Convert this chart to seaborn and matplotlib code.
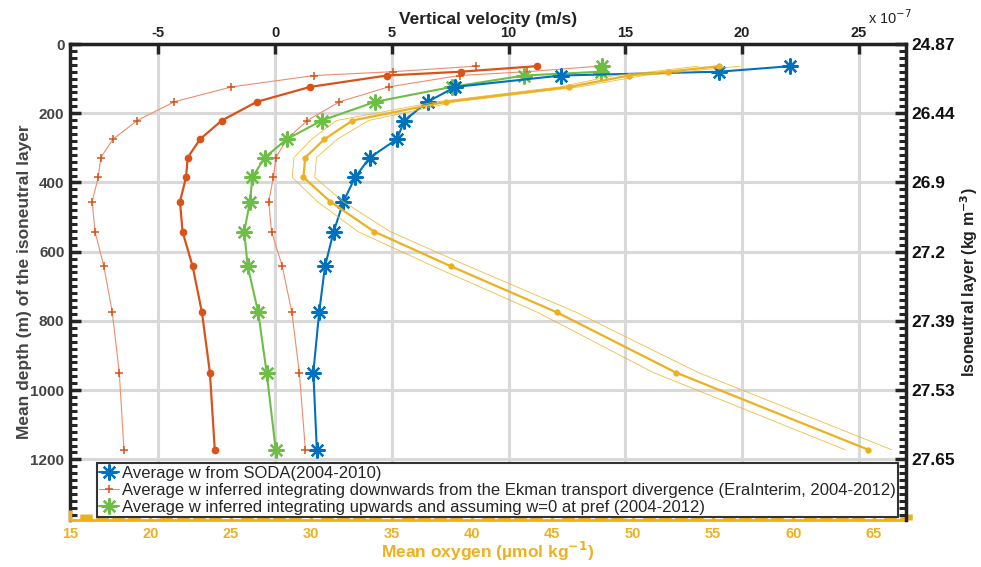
import numpy as np
import pandas as pd
import matplotlib
matplotlib.use("Agg")
import matplotlib.pyplot as plt
import seaborn as sns
from matplotlib.ticker import MultipleLocator

# ---------------- data ----------------
depth = [64, 80, 91, 124, 167, 221, 275, 328, 385, 455, 542, 642, 775, 949, 1172]
# vertical velocity (x 1e-7 m/s)
w_soda = [22.07, 19.03, 12.25, 7.72, 6.53, 5.54, 5.22, 4.06, 3.43, 2.93, 2.51, 2.14, 1.89, 1.64, 1.79]
w_ekman = [11.22, 7.96, 4.79, 1.50, -0.78, -2.28, -3.21, -3.74, -3.81, -4.07, -3.96, -3.53, -3.13, -2.79, -2.58]
w_ekman_lo = [8.59, 5.06, 1.68, -1.87, -4.32, -5.90, -6.94, -7.46, -7.57, -7.83, -7.71, -7.33, -6.97, -6.67, -6.47]
w_ekman_hi = [13.87, 10.79, 7.90, 4.86, 2.76, 1.38, 0.50, 0.04, -0.07, -0.27, -0.15, 0.31, 0.72, 1.04, 1.30]
w_up = [14.02, 13.97, 10.67, 7.57, 4.29, 2.00, 0.50, -0.44, -0.97, -1.07, -1.32, -1.17, -0.72, -0.36, 0.03]
# mean oxygen (umol/kg)
oxy = [55.39, 52.20, 49.78, 46.06, 38.40, 32.57, 30.83, 29.63, 29.52, 31.18, 33.92, 38.69, 45.28, 52.68, 64.66]
oxy_sd = [1.3, 1.0, 0.9, 0.6, 0.6, 1.0, 0.8, 0.7, 0.7, 0.8, 1.0, 1.1, 1.2, 1.4, 1.45]

vel_ticks = [-5, 0, 5, 10, 15, 20, 25]
depth_ticks = [0, 200, 400, 600, 800, 1000, 1200]
oxy_ticks = [15, 20, 25, 30, 35, 40, 45, 50, 55, 60, 65]
density_labels = ["24.87", "26.44", "26.9", "27.2", "27.39", "27.53", "27.65"]

labels = [
    "Average w from SODA(2004-2010)",
    "Average w inferred integrating downwards from the Ekman transport divergence (EraInterim, 2004-2012)",
    "Average w inferred integrating upwards and assuming w=0 at pref (2004-2012)",
]

df = pd.DataFrame({
    "depth": depth, "soda": w_soda, "ek": w_ekman, "ek_lo": w_ekman_lo,
    "ek_hi": w_ekman_hi, "up": w_up, "oxy": oxy,
    "oxy_lo": np.array(oxy) - np.array(oxy_sd),
    "oxy_hi": np.array(oxy) + np.array(oxy_sd),
})

# ---------------- style ----------------
sns.set_theme(style="white")
plt.rcParams["font.family"] = ["Liberation Sans Narrow", "Liberation Sans", "DejaVu Sans"]
plt.rcParams["mathtext.fontset"] = "custom"
plt.rcParams["mathtext.rm"] = "Liberation Sans Narrow"
plt.rcParams["mathtext.bf"] = "Liberation Sans Narrow:bold"

BLUE = "#0072BD"
RED = "#D95319"
RED_LIGHT = "#EC8D6E"
GREEN = "#6DBE45"
ORANGE = "#EDB120"
GRID = "#d9d9d9"

W, H = 981, 567
fig = plt.figure(figsize=(W / 100, H / 100), dpi=100)
ax = fig.add_axes([70 / W, 1 - 520 / H, 836 / W, 476 / H])
ax2 = ax.twiny()   # oxygen axis (bottom)
ax3 = ax.twinx()   # density axis (right)

ast = (8, 2, 0)

def draw(axis, x, color, lw, marker, ms, mew=1.0, alpha=1.0, z=2, mcolor=None):
    mc = mcolor if mcolor is not None else color
    sns.lineplot(data=df, x=x, y="depth", sort=False, estimator=None, ax=axis,
                 color=color, lw=lw, marker=marker, markersize=ms,
                 markeredgewidth=mew, markeredgecolor=mc, markerfacecolor=mc,
                 alpha=alpha, legend=False, zorder=z)
    return axis.lines[-1]

# ---- velocity lines (top axis) ----
draw(ax, "ek_lo", RED_LIGHT, 0.8, "+", 6, 1.1, z=2, mcolor=RED)
h_red = draw(ax, "ek_hi", RED_LIGHT, 0.8, "+", 6, 1.1, z=2, mcolor=RED)
draw(ax, "ek", RED, 1.6, "o", 4.5, 1.0, z=3)
h_green = draw(ax, "up", GREEN, 1.5, ast, 11.5, 1.6, z=4)
h_blue = draw(ax, "soda", BLUE, 1.5, ast, 11.5, 1.6, z=5)

ax.set_xlim(-8.78, 27.02)
ax.set_ylim(1375, 0)
ax.xaxis.tick_top()
ax.xaxis.set_label_position("top")
ax.yaxis.tick_left()
ax.yaxis.set_label_position("left")
ax.set_xticks(vel_ticks)
ax.set_xticklabels([str(v) for v in vel_ticks], fontsize=10.5, fontweight="bold", color="#222222")
ax.set_yticks(depth_ticks)
ax.set_yticklabels([str(v) for v in depth_ticks], fontsize=11, fontweight="bold", color="#444444")
ax.yaxis.set_minor_locator(MultipleLocator(20))
ax.grid(True, which="major", color=GRID, lw=2.2)
ax.set_axisbelow(True)
ax.tick_params(axis="x", which="major", direction="in", length=7, width=2.5, pad=3,
               top=True, bottom=False, labeltop=True, labelbottom=False)
ax.tick_params(axis="y", which="major", direction="in", length=8, width=2.5, pad=4,
               left=True, right=False, labelleft=True, labelright=False)
ax.tick_params(axis="y", which="minor", direction="in", length=5, width=2.2, left=True, right=False)
ax.set_xlabel("Vertical velocity (m/s)", fontsize=12.5, fontweight="bold", color="#222222", labelpad=1)
ax.set_ylabel("Mean depth (m) of the isoneutral layer", fontsize=12.5, fontweight="bold",
              color="#444444", labelpad=-1)
for s in ["top", "left"]:
    ax.spines[s].set_linewidth(2.5)
    ax.spines[s].set_color("#222222")
ax.spines["bottom"].set_visible(False)
ax.spines["right"].set_visible(False)

# ---- oxygen (bottom axis) ----
draw(ax2, "oxy_lo", ORANGE, 0.6, None, 0, 0, alpha=0.85)
draw(ax2, "oxy_hi", ORANGE, 0.6, None, 0, 0, alpha=0.85)
draw(ax2, "oxy", ORANGE, 1.6, "o", 4, 0.5)
ax2.set_xlim(15, 67)
ax2.set_ylim(1375, 0)
ax2.xaxis.tick_bottom()
ax2.xaxis.set_label_position("bottom")
ax2.set_xticks(oxy_ticks)
ax2.set_xticklabels([str(v) for v in oxy_ticks], fontsize=10.5, fontweight="bold", color=ORANGE)
ax2.xaxis.set_minor_locator(MultipleLocator(1))
ax2.tick_params(axis="x", which="major", direction="in", length=7, width=2.5, color=ORANGE, pad=5,
                bottom=True, top=False, labelbottom=True, labeltop=False)
ax2.tick_params(axis="x", which="minor", direction="in", length=4, width=9, color=ORANGE,
                bottom=True, top=False)
ax2.set_xlabel(r"Mean oxygen (µmol kg$^{\mathbf{-1}}$)", fontsize=12.5, fontweight="bold",
               color=ORANGE, labelpad=-0.5)
ax2.set_ylabel("")
ax2.tick_params(axis="y", left=False, right=False, labelleft=False, labelright=False)
for s in ["top", "left", "right"]:
    ax2.spines[s].set_visible(False)
ax2.spines["bottom"].set_color(ORANGE)
ax2.spines["bottom"].set_linewidth(2.0)

# ---- right density axis ----
ax3.set_ylim(1375, 0)
ax3.yaxis.tick_right()
ax3.yaxis.set_label_position("right")
ax3.set_yticks(depth_ticks)
ax3.set_yticklabels(density_labels, fontsize=12.5, fontweight="bold", color="#111111")
ax3.yaxis.set_minor_locator(MultipleLocator(20))
ax3.tick_params(axis="y", which="major", direction="in", length=8, width=2.5, pad=4,
                right=True, left=False, labelright=True, labelleft=False)
ax3.tick_params(axis="y", which="minor", direction="in", length=5, width=2.2, right=True, left=False)
ax3.set_ylabel(r"Isoneutral layer (kg m$^{\mathbf{-3}}$)", fontsize=11.5, fontweight="bold",
               color="#222222", labelpad=2)
ax3.tick_params(axis="x", which="both", top=False, bottom=False, labeltop=False, labelbottom=False)
for s in ["top", "left", "bottom"]:
    ax3.spines[s].set_visible(False)
ax3.spines["right"].set_linewidth(2.5)
ax3.spines["right"].set_color("#222222")

fig.text(868 / W, 1 - 18 / H, r"x 10$^{-7}$", fontsize=10.5, color="#222222", va="center", ha="left")

leg = ax3.legend([h_blue, h_red, h_green], labels, loc="lower left",
                 bbox_to_anchor=(0.032, 0.006), fontsize=12.0, frameon=True, fancybox=False,
                 handlelength=1.2, handletextpad=0.15, borderpad=0.15, labelspacing=0.12,
                 borderaxespad=0.0, framealpha=1)
leg.get_frame().set_edgecolor("#333333")
leg.get_frame().set_linewidth(1.5)
leg.set_zorder(20)

fig.savefig("out.png", dpi=100)
